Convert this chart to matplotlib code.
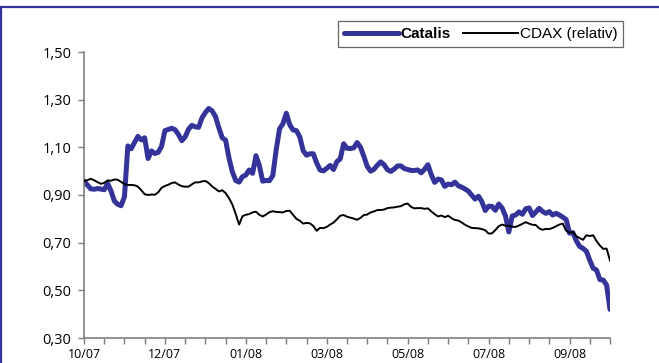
import numpy as np
import matplotlib
matplotlib.use("Agg")
import matplotlib.pyplot as plt
from matplotlib.lines import Line2D

# values, 6 samples per axis tick
catalis = [
    0.959, 0.942, 0.926, 0.924, 0.927, 0.925, 0.922, 0.949, 0.917, 0.875,
    0.861, 0.855, 0.893, 1.106, 1.094, 1.121, 1.146, 1.131, 1.140, 1.053,
    1.085, 1.074, 1.079, 1.104, 1.170, 1.175, 1.180, 1.174, 1.154, 1.128,
    1.144, 1.176, 1.192, 1.186, 1.184, 1.224, 1.246, 1.263, 1.253, 1.229,
    1.182, 1.140, 1.130, 1.055, 0.997, 0.961, 0.954, 0.977, 0.984, 1.005,
    0.991, 1.065, 1.024, 0.958, 0.961, 0.960, 0.982, 1.090, 1.178, 1.199,
    1.243, 1.195, 1.173, 1.170, 1.144, 1.086, 1.067, 1.073, 1.073, 1.035,
    1.005, 1.001, 1.012, 1.024, 1.007, 1.040, 1.052, 1.115, 1.096, 1.095,
    1.098, 1.120, 1.100, 1.062, 1.020, 1.000, 1.008, 1.025, 1.039, 1.027,
    1.006, 0.999, 1.009, 1.022, 1.022, 1.011, 1.007, 1.003, 1.003, 1.005,
    0.993, 1.008, 1.027, 0.985, 0.953, 0.967, 0.963, 0.936, 0.946, 0.943,
    0.954, 0.939, 0.933, 0.925, 0.916, 0.899, 0.883, 0.895, 0.872, 0.835,
    0.853, 0.852, 0.836, 0.862, 0.846, 0.812, 0.745, 0.812, 0.816, 0.829,
    0.819, 0.842, 0.846, 0.814, 0.829, 0.844, 0.831, 0.823, 0.830, 0.816,
    0.823, 0.816, 0.807, 0.797, 0.740, 0.742, 0.708, 0.684, 0.676, 0.664,
    0.626, 0.593, 0.585, 0.545, 0.543, 0.522, 0.420,
]

cdax = [
    0.959, 0.962, 0.968, 0.962, 0.954, 0.947, 0.951, 0.961, 0.960, 0.965,
    0.964, 0.955, 0.946, 0.942, 0.942, 0.941, 0.935, 0.920, 0.903, 0.900,
    0.902, 0.901, 0.911, 0.930, 0.938, 0.943, 0.950, 0.953, 0.944, 0.937,
    0.935, 0.935, 0.945, 0.953, 0.953, 0.957, 0.959, 0.950, 0.936, 0.926,
    0.915, 0.920, 0.908, 0.887, 0.860, 0.820, 0.776, 0.811, 0.817, 0.820,
    0.827, 0.830, 0.817, 0.810, 0.818, 0.828, 0.832, 0.829, 0.828, 0.827,
    0.833, 0.834, 0.817, 0.800, 0.792, 0.780, 0.783, 0.781, 0.770, 0.750,
    0.762, 0.761, 0.766, 0.776, 0.784, 0.798, 0.813, 0.816, 0.809, 0.805,
    0.801, 0.796, 0.804, 0.816, 0.818, 0.827, 0.831, 0.837, 0.837, 0.839,
    0.845, 0.847, 0.848, 0.851, 0.853, 0.861, 0.864, 0.850, 0.844, 0.845,
    0.845, 0.842, 0.844, 0.831, 0.820, 0.810, 0.814, 0.807, 0.813, 0.803,
    0.795, 0.793, 0.785, 0.775, 0.768, 0.762, 0.761, 0.760, 0.757, 0.752,
    0.738, 0.739, 0.753, 0.769, 0.776, 0.771, 0.771, 0.767, 0.766, 0.772,
    0.779, 0.786, 0.780, 0.775, 0.774, 0.760, 0.754, 0.758, 0.757, 0.762,
    0.769, 0.776, 0.780, 0.750, 0.742, 0.745, 0.727, 0.719, 0.712, 0.731,
    0.728, 0.731, 0.707, 0.688, 0.674, 0.675, 0.625,
]

month_labels = ["10/07", "12/07", "01/08", "03/08", "05/08", "07/08", "09/08"]
y_ticks = [0.30, 0.50, 0.70, 0.90, 1.10, 1.30, 1.50]

n_ticks = 26
x = np.arange(len(catalis)) / 6.0

frame_blue = "#333399"
axis_grey = "#7f7f7f"

fig = plt.figure(figsize=(6.59, 3.63), dpi=100)
ax = fig.add_axes([84 / 659, 1 - 338 / 363, 526 / 659, 286 / 363])

ax.plot(x, catalis, color=frame_blue, lw=3.6, solid_capstyle="round",
        solid_joinstyle="round", label="Catalis", zorder=2)
ax.plot(x, cdax, color="black", lw=1.4, label="CDAX (relativ)", zorder=3)

ax.set_xlim(0, n_ticks)
ax.set_ylim(0.30, 1.50)

ax.set_xticks(np.arange(0, n_ticks + 1))
ax.set_xticklabels([month_labels[i // 4] if i % 4 == 0 and i // 4 < len(month_labels) else ""
                    for i in range(n_ticks + 1)])
ax.set_yticks(y_ticks)
ax.set_yticklabels([f"{v:.2f}".replace(".", ",") for v in y_ticks])

for s in ["top", "right"]:
    ax.spines[s].set_visible(False)
for s in ["left", "bottom"]:
    ax.spines[s].set_color(axis_grey)
    ax.spines[s].set_linewidth(1.2)

ax.tick_params(axis="both", colors=axis_grey, length=4, width=1.0)
ax.tick_params(axis="y", pad=5, labelcolor="black", labelsize=10.5)
ax.tick_params(axis="x", pad=3, labelcolor="black", labelsize=9)
for lab in ax.get_xticklabels() + ax.get_yticklabels():
    lab.set_fontfamily("Open Sans")

leg = fig.legend(loc="upper left", bbox_to_anchor=(338 / 659, 1 - 21 / 363),
                 ncol=2, frameon=True, fancybox=False, edgecolor="#404040",
                 handlelength=3.6, handletextpad=0.1, columnspacing=0.8,
                 borderpad=0.4, borderaxespad=0,
                 prop={"family": "Liberation Sans", "size": 11})
leg.get_frame().set_linewidth(0.9)
leg.get_texts()[0].set_fontweight("bold")

# blue frame at the top and left edge
fig.add_artist(Line2D([0, 1], [1 - 7.3 / 363] * 2, transform=fig.transFigure,
                      color=frame_blue, lw=1.6))
fig.add_artist(Line2D([1 / 659] * 2, [0, 1 - 7.3 / 363], transform=fig.transFigure,
                      color=frame_blue, lw=1.6))

fig.savefig("out.png", dpi=100)
